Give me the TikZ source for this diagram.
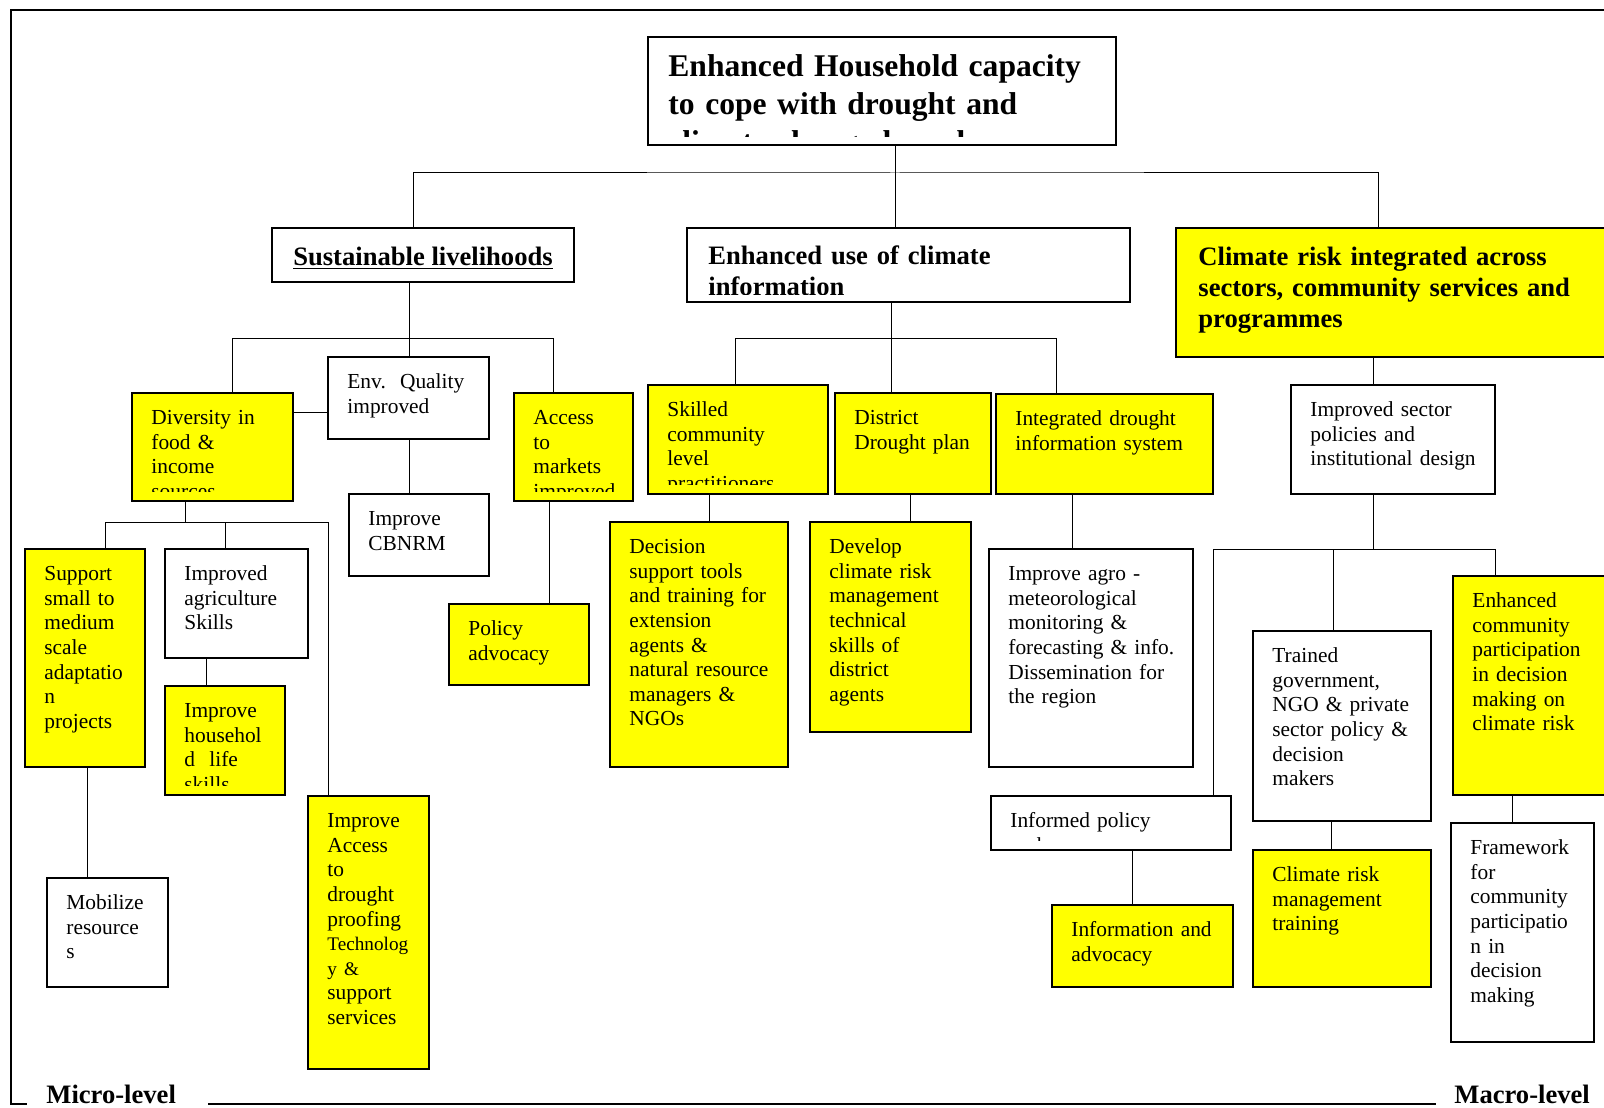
\documentclass[tikz,border=0pt]{standalone}
\usepackage{fontspec}
\setmainfont{Liberation Serif}
\usetikzlibrary{fit}

\definecolor{boxyellow}{RGB}{255,255,0}
\newcommand\bodyfont{\fontsize{10.7}{12.3}\selectfont}
\newcommand\headfont{\fontsize{13.3}{15.6}\selectfont\bfseries}
\newcommand\goalfont{\fontsize{15.8}{19}\selectfont\bfseries}

\tikzset{
  boxframe/.style={draw, line width=0.6pt, inner sep=0pt},
  boxtext/.style={anchor=north west, inner sep=0pt, align=left, text width=160pt, font=\bodyfont},
  conn/.style={line width=0.5pt},
  frameline/.style={line width=1pt},
}

% box from (x1,y1) to (x2,y2) in pixels, text clipped at the bottom
\newcommand\ebox[7][white]{%
  \node[boxframe, fill=#1, fit={(#3,#4) (#5,#6)}] (#2) {};
  \begin{scope}
    \clip (#3,#4) rectangle (#5,#6-10);
    \node[boxtext] (#2-t) at (#3+19,#4+14) {\strut #7};
  \end{scope}}

\begin{document}
\begin{tikzpicture}[x=0.5pt, y=-0.5pt]
\useasboundingbox (0,0) rectangle (1604,1107);

% frame
\draw[frameline] (1604,10) -- (11,10) -- (11,1104) -- (27,1104);
\draw[frameline] (208,1104) -- (1436,1104);
\node[anchor=base west, inner sep=0pt, font=\headfont] (micro) at (46,1103) {Micro-level};
\node[anchor=base west, inner sep=0pt, font=\headfont] (macro) at (1454,1103) {Macro-level};

% goal
\node[boxframe, fit={(648,37) (1116,145)}] (goal) {};
\begin{scope}
  \clip (648,37) rectangle (1116,137);
  \node[boxtext, font=\goalfont, text width=300pt] (goal-t) at (668,50) {\strut Enhanced Household capacity\\ to cope with drought and\\ climate change honed};
\end{scope}

% outcomes
\node[boxframe, fit={(272,228) (574,282)}] (sl) {};
\node[anchor=base, inner sep=0pt, font=\headfont] (sl-t) at (423,265) {\underline{Sustainable livelihoods}};

\node[boxframe, fit={(687,228) (1130,302)}] (eu) {};
\begin{scope}
  \clip (687,228) rectangle (1130,294);
  \node[boxtext, font=\headfont, text width=300pt] (eu-t) at (708,242) {\strut Enhanced use of climate\\ information};
\end{scope}

\node[boxframe, fill=boxyellow, fit={(1176,228) (1610,357)}] (cr) {};
\node[boxtext, font=\headfont, text width=300pt] (cr-t) at (1198,243) {\strut Climate risk integrated across\\ sectors, community services and\\ programmes};

% sustainable livelihoods branch
\ebox[boxyellow]{div}{132}{393}{293}{501}{Diversity in\\ food \&\\ income\\ sources}
\ebox{env}{328}{357}{489}{439}{Env.\ \ Quality\\ improved}
\ebox{cbnrm}{349}{494}{489}{576}{Improve\\ CBNRM}
\ebox[boxyellow]{access}{514}{393}{633}{501}{Access\\ to\\ markets\\ improved}
\ebox[boxyellow]{policy}{449}{604}{589}{685}{Policy\\ advocacy}
\ebox[boxyellow]{support}{25}{549}{145}{767}{Support\\ small to\\ medium\\ scale\\ adaptatio\\ n\\ projects}
\ebox{agri}{165}{549}{308}{658}{Improved\\ agriculture\\ Skills}
\ebox[boxyellow]{hhold}{165}{686}{285}{795}{Improve\\ househol\\ d\ \ life\\ skills}
\ebox[boxyellow]{tech}{308}{796}{429}{1069}{Improve\\ Access\\ to\\ drought\\ proofing\\ {\fontsize{9.6}{12.3}\selectfont Technolog}\\ {\fontsize{9.6}{12.3}\selectfont y \&}\\ support\\ services}
\ebox{mobil}{47}{878}{168}{987}{Mobilize\\ resource\\ s}

% climate information branch
\ebox[boxyellow]{skilled}{648}{385}{828}{494}{Skilled\\ community\\ level\\ practitioners}
\ebox[boxyellow]{district}{835}{393}{991}{494}{District\\ Drought plan}
\ebox[boxyellow]{idis}{996}{394}{1213}{494}{Integrated drought\\ information system}
\ebox[boxyellow]{dst}{610}{522}{788}{767}{Decision\\ support tools\\ and training for\\ extension\\ agents \&\\ natural resource\\ managers \&\\ NGOs}
\ebox[boxyellow]{develop}{810}{522}{971}{732}{Develop\\ climate risk\\ management\\ technical\\ skills of\\ district\\ agents}
\ebox{agro}{989}{549}{1193}{767}{Improve agro -\\ meteorological\\ monitoring \&\\ forecasting \& info.\\ Dissemination for\\ the region}
\ebox{informed}{991}{796}{1231}{850}{Informed policy\\ makers}
\ebox[boxyellow]{infoadv}{1052}{905}{1233}{987}{Information and\\ advocacy}

% climate risk branch
\ebox{sector}{1291}{385}{1495}{494}{Improved sector\\ policies and\\ institutional design}
\ebox{trained}{1253}{631}{1431}{821}{Trained\\ government,\\ NGO \& private\\ sector policy \&\\ decision\\ makers}
\ebox[boxyellow]{crtrain}{1253}{850}{1431}{987}{Climate risk\\ management\\ training}
\ebox[boxyellow]{community}{1453}{576}{1610}{795}{Enhanced\\ community\\ participation\\ in decision\\ making on\\ climate risk}
\ebox{framework}{1451}{823}{1594}{1042}{Framework\\ for\\ community\\ participatio\\ n in\\ decision\\ making}

% connectors
\coordinate (gbus) at (895,173);
\draw[conn] (goal.south -| gbus) -- (eu.north -| gbus);
\draw[conn] (sl.north -| 413,0) |- (gbus) -| (cr.north -| 1378,0);

\draw[conn] (sl.south -| 409,0) -- (env.north -| 409,0);
\draw[conn] (div.north -| 232,0) |- (553,338) -- (access.north -| 553,0);
\draw[conn] (div.east |- 0,412) -- (env.west |- 0,412);
\draw[conn] (env.south -| 409,0) -- (cbnrm.north -| 409,0);
\draw[conn] (access.south -| 549,0) -- (policy.north -| 549,0);
\draw[conn] (div.south -| 185,0) -- (185,522);
\draw[conn] (support.north -| 105,0) |- (328,522) -- (tech.north -| 328,0);
\draw[conn] (225,522) -- (agri.north -| 225,0);
\draw[conn] (agri.south -| 206,0) -- (hhold.north -| 206,0);
\draw[conn] (support.south -| 87,0) -- (mobil.north -| 87,0);

\draw[conn] (eu.south -| 891,0) -- (district.north -| 891,0);
\draw[conn] (skilled.north -| 735,0) |- (1056,338) -- (idis.north -| 1056,0);
\draw[conn] (skilled.south -| 709,0) -- (dst.north -| 709,0);
\draw[conn] (district.south -| 910,0) -- (develop.north -| 910,0);
\draw[conn] (idis.south -| 1072,0) -- (agro.north -| 1072,0);
\draw[conn] (informed.south -| 1132,0) -- (infoadv.north -| 1132,0);

\draw[conn] (cr.south -| 1373,0) -- (sector.north -| 1373,0);
\draw[conn] (sector.south -| 1373,0) -- (1373,549);
\draw[conn] (informed.north -| 1213,0) |- (1495,549) -- (community.north -| 1495,0);
\draw[conn] (1333,549) -- (trained.north -| 1333,0);
\draw[conn] (trained.south -| 1331,0) -- (crtrain.north -| 1331,0);
\draw[conn] (community.south -| 1512,0) -- (framework.north -| 1512,0);

\end{tikzpicture}
\end{document}
